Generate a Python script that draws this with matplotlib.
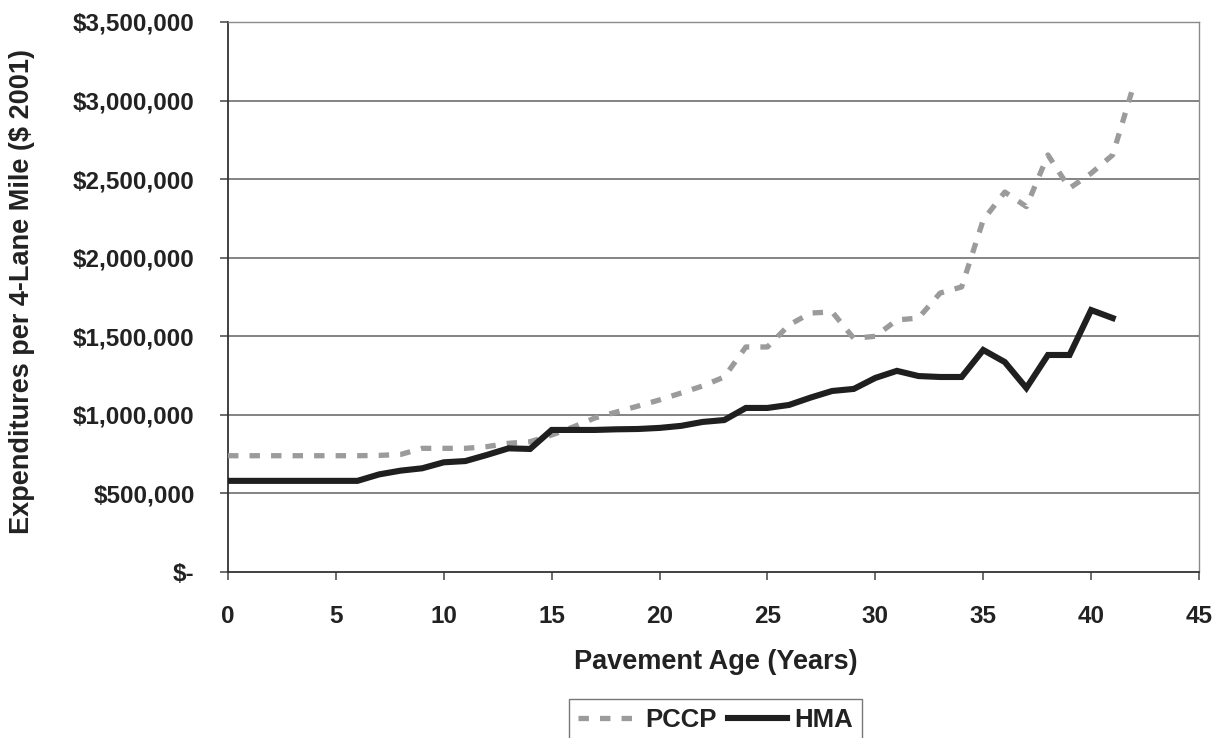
import matplotlib
matplotlib.use("Agg")
import matplotlib.pyplot as plt
from matplotlib.ticker import FixedLocator, FixedFormatter

# ---- data ----
hma_years = list(range(0, 42))
hma_values = [580000, 580000, 580000, 580000, 580000, 580000, 580000,
              621000, 645000, 660000, 698000, 706000, 745000, 787000, 783000,
              904000, 904000, 904000, 908000, 910000, 917000, 930000, 955000,
              967000, 1044000, 1044000, 1063000, 1110000, 1152000, 1165000,
              1235000, 1280000, 1247000, 1241000, 1241000, 1413000, 1336000,
              1171000, 1381000, 1381000, 1667000, 1616000]

pccp_years = list(range(0, 43))
pccp_values = [740000, 740000, 740000, 740000, 740000, 740000, 740000,
               742000, 748000, 787000, 787000, 787000, 798000, 819000, 829000,
               872000, 923000, 980000, 1018000, 1056000, 1095000, 1139000,
               1184000, 1241000, 1432000, 1432000, 1572000, 1648000, 1655000,
               1487000, 1500000, 1604000, 1616000, 1775000, 1814000, 2240000,
               2418000, 2325000, 2654000, 2442000, 2537000, 2654000, 3110000]

x_ticks = [0, 5, 10, 15, 20, 25, 30, 35, 40, 45]
y_ticks = [0, 500000, 1000000, 1500000, 2000000, 2500000, 3000000, 3500000]
y_tick_labels = ["$-", "$500,000", "$1,000,000", "$1,500,000", "$2,000,000",
                 "$2,500,000", "$3,000,000", "$3,500,000"]

series_names = ["PCCP", "HMA"]
x_label = "Pavement Age (Years)"
y_label = "Expenditures per 4-Lane Mile ($ 2001)"

# ---- style ----
plt.rcParams['font.family'] = ['Liberation Sans', 'DejaVu Sans']
plt.rcParams['font.weight'] = 'bold'
plt.rcParams['lines.scale_dashes'] = False

W, H = 1227, 738
fig = plt.figure(figsize=(W / 100, H / 100), dpi=100)
left, right, top, bottom = 228, 1199, 22, 572
ax = fig.add_axes([left / W, 1 - bottom / H, (right - left) / W, (bottom - top) / H])

text_color = "#222222"
grid_color = "#626262"

ax.set_xlim(0, 45)
ax.set_ylim(0, 3500000)

ax.yaxis.set_major_locator(FixedLocator(y_ticks))
ax.yaxis.set_major_formatter(FixedFormatter(y_tick_labels))
ax.xaxis.set_major_locator(FixedLocator(x_ticks))

for y in y_ticks[1:]:
    ax.axhline(y, color=grid_color, lw=1.1, zorder=1)

pccp_line, = ax.plot(pccp_years, pccp_values, color="#9b9b9b", lw=3.8,
                     dashes=(7.5, 8.0), solid_capstyle='butt',
                     dash_capstyle='butt', zorder=3)
hma_line, = ax.plot(hma_years, hma_values, color="#1f1f1f", lw=4.4,
                    solid_joinstyle='miter', zorder=4)

for s in ['top', 'right']:
    ax.spines[s].set_color("#8a8a8a")
    ax.spines[s].set_linewidth(1.0)
for s in ['left', 'bottom']:
    ax.spines[s].set_color("#333333")
    ax.spines[s].set_linewidth(1.3)

ax.tick_params(axis='both', direction='out', length=6, width=1.1,
               color="#444444", labelcolor=text_color, labelsize=17.5, pad=18)
for lab in ax.get_xticklabels() + ax.get_yticklabels():
    lab.set_fontweight('bold')

ax.set_xlabel(x_label, fontsize=19.5, fontweight='bold', color=text_color)
ax.set_ylabel(y_label, fontsize=19.5, fontweight='bold', color=text_color)
ax.xaxis.set_label_coords(((716 - left) / (right - left)), -(662 - bottom) / (bottom - top))
ax.yaxis.set_label_coords(-(left - 22) / (right - left), (bottom - 291) / (bottom - top))
ax.xaxis.label.set_va('center')
ax.yaxis.label.set_va('center')

leg = fig.legend([pccp_line, hma_line], series_names, loc='upper left',
                 bbox_to_anchor=(569 / W, 1 - 699 / H), ncol=2, frameon=True,
                 fancybox=False, edgecolor="#555555", fontsize=18.5,
                 handlelength=2.3, handletextpad=0.3, columnspacing=0.45,
                 borderpad=0.35, borderaxespad=0)
leg.get_frame().set_linewidth(1.0)
for t in leg.get_texts():
    t.set_fontweight('bold')
    t.set_color(text_color)

fig.savefig("out.png", dpi=100)
